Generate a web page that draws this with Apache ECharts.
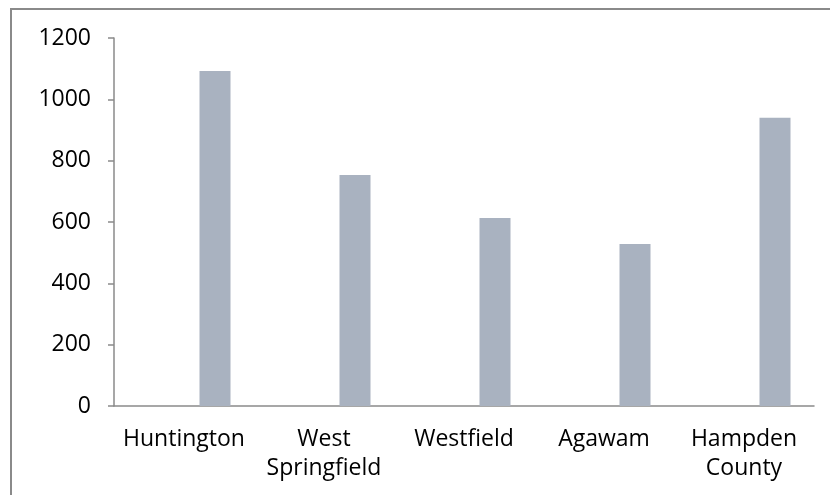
<!DOCTYPE html>
<html>
<head>
<meta charset="utf-8">
<script src="https://cdn.jsdelivr.net/npm/echarts@6/dist/echarts.min.js"></script>
<style>
  html, body { margin: 0; padding: 0; background: #fff; }
  #chart { width: 830px; height: 495px; }
</style>
</head>
<body>
<div id="chart"></div>
<script>
const categories = ['Huntington', 'West\nSpringfield', 'Westfield', 'Agawam', 'Hampden\nCounty'];
const placeholderValues = ['-', '-', '-', '-', '-'];
const values = [1092, 753, 613, 528, 940];
const yTicks = { min: 0, max: 1200, interval: 200 };

const chart = echarts.init(document.getElementById('chart'));
const font = '"Open Sans", "Liberation Sans", sans-serif';
chart.setOption({
  animation: false,
  graphic: [{
    type: 'rect',
    shape: { x: 11, y: 9, width: 900, height: 600 },
    style: { fill: 'none', stroke: '#8a8a8a', lineWidth: 2 },
    silent: true
  }],
  grid: { left: 114, top: 38, right: 16, bottom: 89 },
  xAxis: {
    type: 'category',
    data: categories,
    axisLine: { lineStyle: { color: '#8a8a8a', width: 1.5 } },
    axisTick: { length: 8, lineStyle: { color: '#8a8a8a', width: 1.5 } },
    axisLabel: { color: '#000', fontFamily: font, fontSize: 23, lineHeight: 29, margin: 19, interval: 0 }
  },
  yAxis: {
    type: 'value',
    min: yTicks.min, max: yTicks.max, interval: yTicks.interval,
    splitLine: { show: false },
    axisLine: { show: true, lineStyle: { color: '#8a8a8a', width: 1.5 } },
    axisTick: { show: true, length: 6, lineStyle: { color: '#8a8a8a', width: 1.5 } },
    axisLabel: { color: '#000', fontFamily: font, fontSize: 23, margin: 23, formatter: v => String(v) }
  },
  series: [
    { type: 'bar', data: placeholderValues, barWidth: 31, barGap: '100%', itemStyle: { color: '#a9b2c0' } },
    { type: 'bar', data: values, barWidth: 31, barGap: '100%', itemStyle: { color: '#a9b2c0' } }
  ]
});
</script>
</body>
</html>
